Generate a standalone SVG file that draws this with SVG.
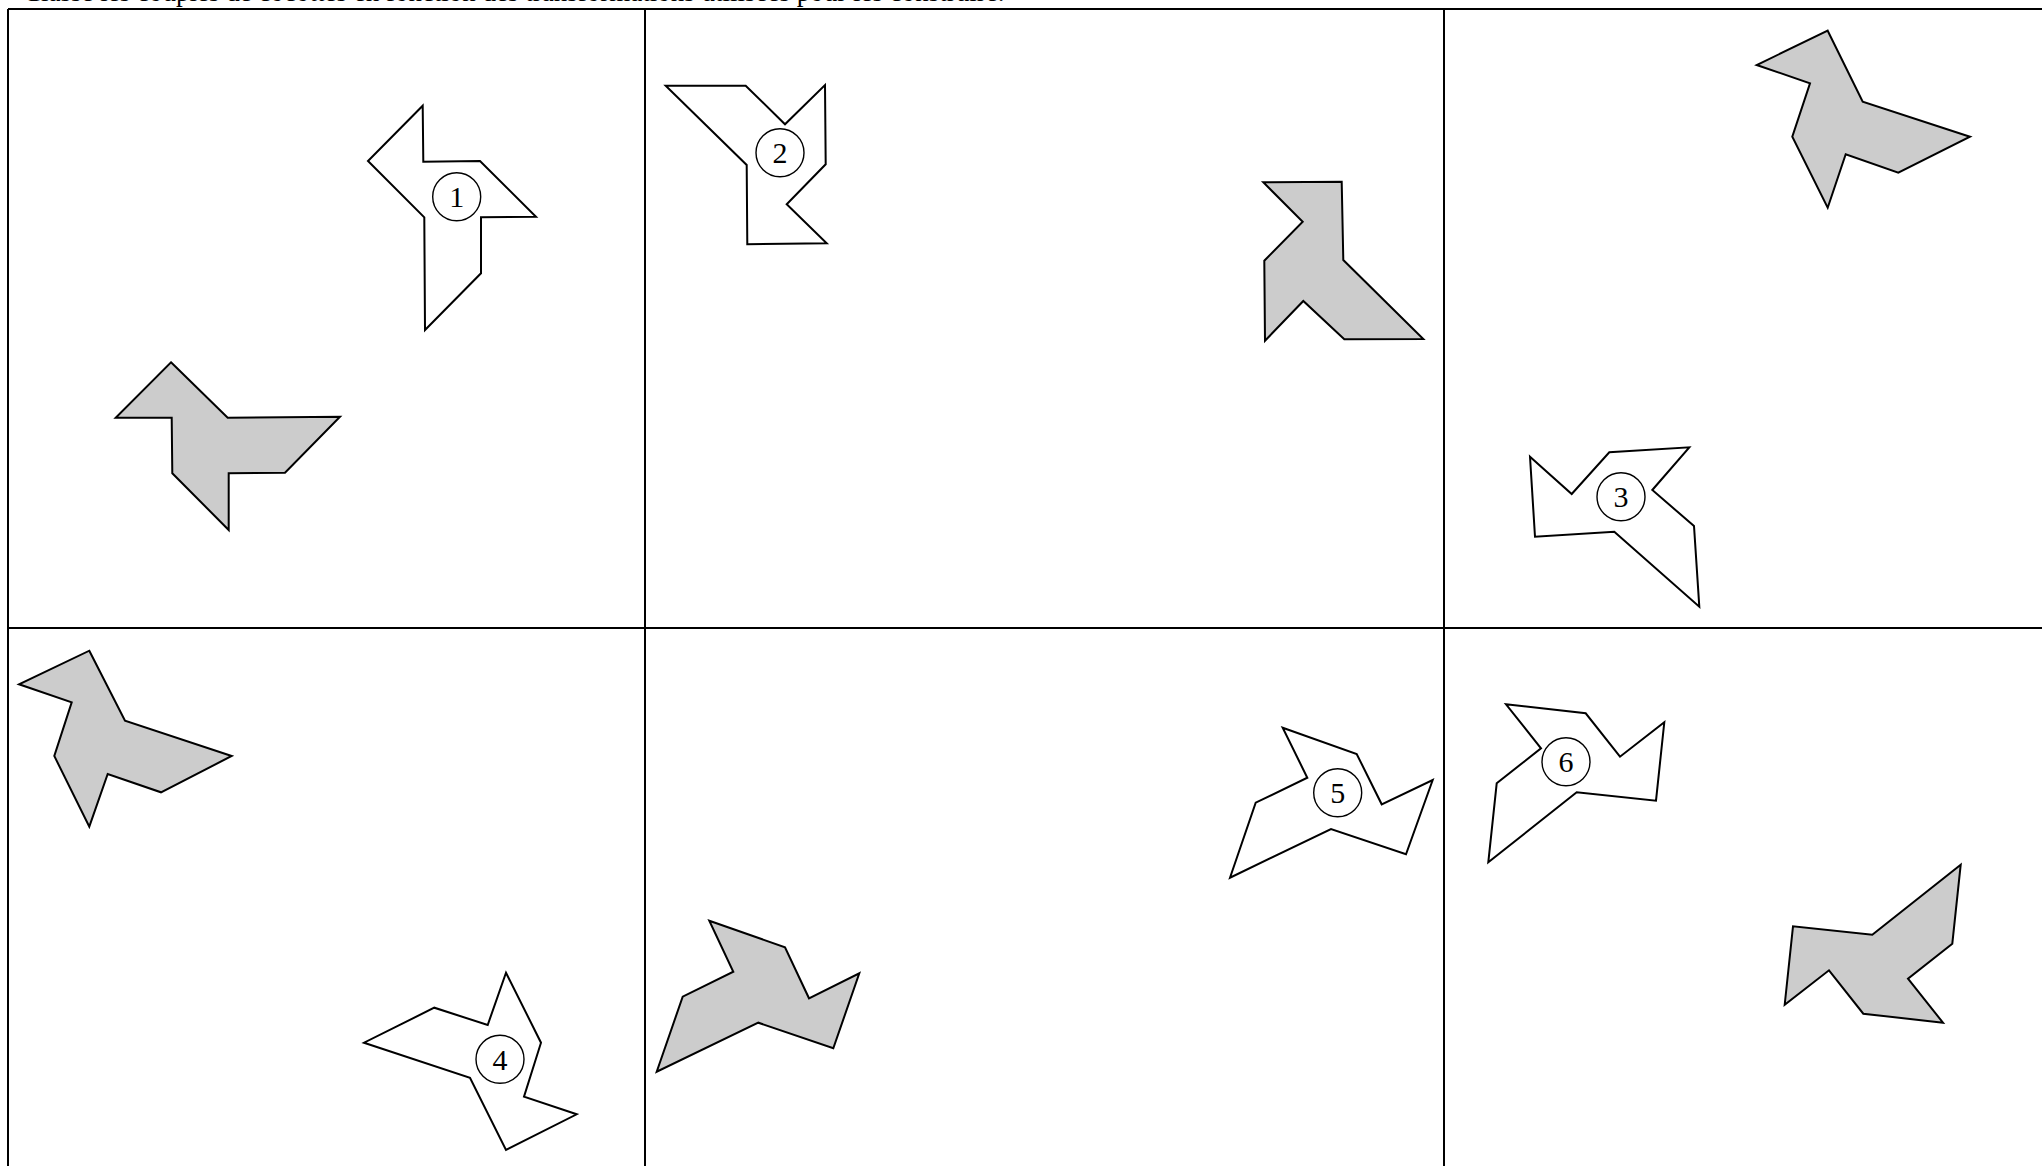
<svg xmlns="http://www.w3.org/2000/svg" width="2042" height="1166" viewBox="0 0 2042 1166">
<style>
.grid{stroke:#000;stroke-width:2;fill:none}
.w{fill:#fff;stroke:#000;stroke-width:2;stroke-linejoin:miter}
.g{fill:#cccccc;stroke:#000;stroke-width:2;stroke-linejoin:miter}
.c{fill:#fff;stroke:#000;stroke-width:1.4}
.n{font-family:"Liberation Serif",serif;font-size:30px;text-anchor:middle;fill:#000}
.t{font-family:"Liberation Serif",serif;font-size:27px;fill:#000}
</style>
<rect width="2042" height="1166" fill="#fff"/>
<text class="t" x="23" y="1">Classe les couples de cocottes en fonction des transformations utilisées pour les construire.</text>
<g id="grid">
<line class="grid" x1="8" y1="9" x2="2042" y2="9"/>
<line class="grid" x1="8" y1="628" x2="2042" y2="628"/>
<line class="grid" x1="8" y1="9" x2="8" y2="1166"/>
<line class="grid" x1="645" y1="9" x2="645" y2="1166"/>
<line class="grid" x1="1444" y1="9" x2="1444" y2="1166"/>
</g>
<g id="fig1">
<polygon class="w" points="422.7,105.7 423.3,161.7 480,161 536,216.7 481,217.3 481,273.3 425,330 424.3,217.3 368,161"/>
<circle class="c" cx="456.7" cy="196.7" r="24"/>
<text class="n" x="456.7" y="207">1</text>
</g>
<g id="fig1b">
<polygon class="g" points="171,362.3 227.7,417.7 340,416.7 285,472.7 228.7,473.3 228.7,530 172.3,473.3 171.7,417.7 115.7,417.7"/>
</g>
<g id="fig2">
<polygon class="w" points="665.7,85.7 745.7,85.7 785,124.3 825,85 825.7,164.3 786.7,204.3 826.7,243.3 747.3,244.3 746.7,165"/>
<circle class="c" cx="780" cy="152.7" r="24"/>
<text class="n" x="780" y="163">2</text>
</g>
<g id="fig2b">
<polygon class="g" points="1263.3,182.3 1341.7,181.7 1343.3,260 1423.3,339 1344.3,339.3 1303.3,301 1265,340.7 1264.3,260.7 1302.7,221.7"/>
</g>
<g id="fig3b">
<polygon class="g" points="1827.7,30.7 1862.7,101.7 1970,136.7 1898.3,172.7 1845.7,154.3 1827.7,207.7 1792.3,136.7 1810,83.3 1756.7,65"/>
</g>
<g id="fig3">
<polygon class="w" points="1530,456.7 1571.7,494 1609.3,452.3 1689.3,447.3 1652.3,490 1694,526 1699.3,606.7 1614.3,531.7 1535,536.7"/>
<circle class="c" cx="1621" cy="496.7" r="24"/>
<text class="n" x="1621" y="507">3</text>
</g>
<g id="fig4b">
<polygon class="g" points="89.3,650.7 125,720.7 231.7,756 161,792.3 107.7,774 89.3,826.7 54.3,756 71.7,702.3 19,684.3"/>
</g>
<g id="fig4">
<polygon class="w" points="506,972.7 541,1042.7 524,1096.7 576.7,1114.3 506,1150 470,1077.7 364,1042.7 434.3,1007.7 487.7,1025"/>
<circle class="c" cx="500" cy="1059.3" r="24"/>
<text class="n" x="500" y="1069.6">4</text>
</g>
<g id="fig5b">
<polygon class="g" points="709.3,920.7 785,947.3 809,998.3 859.3,973.3 833.3,1048.3 758.3,1022.7 656.7,1071.7 682.7,996.7 733.3,971.7"/>
</g>
<g id="fig5">
<polygon class="w" points="1282.7,727.7 1356.7,754 1381.7,804.3 1432.7,780 1406,854.3 1331,829 1230,877.7 1255.7,802.7 1307.3,777.7"/>
<circle class="c" cx="1337.7" cy="792.7" r="24"/>
<text class="n" x="1337.7" y="803">5</text>
</g>
<g id="fig6">
<polygon class="w" points="1506,704.3 1585.7,713.3 1620,756.7 1664.3,722.3 1656,800.7 1576.7,792.3 1488.3,862.3 1496.7,783.3 1541,748.3"/>
<circle class="c" cx="1566" cy="761.7" r="24"/>
<text class="n" x="1566" y="772">6</text>
</g>
<g id="fig6b">
<polygon class="g" points="1943,1022.7 1863.3,1013.7 1829,970.3 1784.7,1004.7 1793,926.3 1872.3,934.7 1960.7,864.7 1952.3,943.7 1908,978.7"/>
</g>
</svg>
